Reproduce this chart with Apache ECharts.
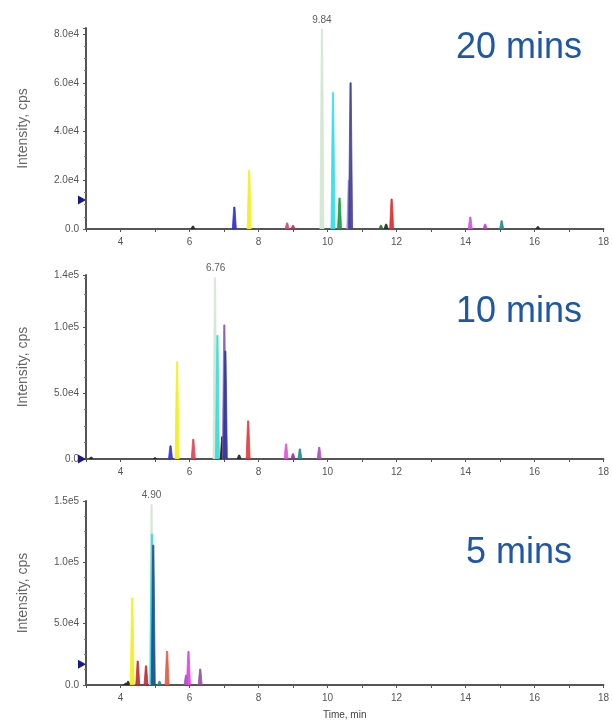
<!DOCTYPE html>
<html>
<head>
<meta charset="utf-8">
<script src="https://cdn.jsdelivr.net/npm/echarts@6/dist/echarts.min.js"></script>
<style>
  html, body { margin: 0; padding: 0; background: #fff; }
  #main { width: 612px; height: 721px; }
</style>
</head>
<body>
<div id="main"></div>
<script>
// retention times (min) and intensities (cps)
var rt20 = [6.10, 7.30, 7.73, 8.83, 9.00, 9.84, 10.16, 10.35, 10.62, 10.67, 11.55, 11.70, 11.86, 14.14, 14.57, 15.05, 16.10]
var int20 = [1200, 9000, 24000, 2500, 1500, 82000, 56000, 12700, 20000, 60000, 1500, 2000, 12300, 4900, 2000, 3400, 1000]
var rt10 = [3.15, 5.00, 5.45, 5.64, 6.11, 6.74, 6.81, 6.95, 7.01, 7.04, 7.44, 7.70, 8.80, 9.00, 9.20, 9.76]
var int10 = [1500, 1000, 10000, 74000, 15000, 138000, 94000, 17000, 102000, 82000, 3000, 29000, 11500, 4000, 7700, 9000]
var rt5 = [4.15, 4.22, 4.34, 4.50, 4.74, 4.90, 4.91, 4.95, 5.13, 5.35, 5.90, 5.97, 6.31]
var int5 = [1500, 3000, 71000, 19500, 15600, 147000, 123000, 114000, 3000, 27500, 8000, 27500, 13000]

// labelled apex per run
var apexRt = [9.84, 6.76, 4.90]
var apexInt = [82000, 138000, 147000]
// threshold markers on the y axis
var markerInt = [11900, 0, 17000]

var runNames = ['20 mins', '10 mins', '5 mins']
var xTicks = [4, 6, 8, 10, 12, 14, 16, 18]

// peak colours (one per trace)
var col20 = ['#222', '#2b2bd0', '#f2ee1a', '#d24a6a', '#c03050', '#cfe6cf', '#2fdcec', '#149a3a', '#9c8ad8', '#3e3e98', '#2a6a2a', '#222', '#e02828', '#d050e0', '#c040c0', '#1f8a8a', '#222']
var col10 = ['#222', '#222', '#3030d0', '#f2ee1a', '#e04050', '#d2e6d2', '#38dcd8', '#111', '#8a5aa8', '#2a3aa0', '#222', '#e03838', '#e050d8', '#9030a0', '#1f8a8a', '#a050c0']
var col5 = ['#222', '#222', '#f2ee1a', '#c02838', '#c02838', '#d2e6d2', '#38d8e0', '#1c4c8c', '#1f8a8a', '#e05840', '#8a5ab0', '#e040e0', '#9050a0']

var chart = echarts.init(document.getElementById('main'))

function makePeak(colors) {
  return function (params, api) {
    var x = api.value(0)
    var top = api.coord([x, api.value(1)])
    var base = api.coord([x, 0])
    var hw = 2
    var c = colors[params.dataIndex]
    return {
      type: 'polygon',
      shape: {
        points: [[base[0] - hw, base[1]], [top[0] - 0.6, top[1]], [top[0] + 0.6, top[1]], [base[0] + hw, base[1]]]
      },
      style: { fill: c, stroke: c, lineWidth: 0.8, opacity: 0.9 }
    }
  }
}

function sciFmt(v) {
  if (v === 0) return '0.0'
  return v.toExponential(1).replace('e+', 'e')
}

var gridTops = [28, 275, 501]
var gridHeights = [201, 184, 185]
var yMax = [82500, 140000, 150000]
var yInterval = [20000, 50000, 50000]
var rts = [rt20, rt10, rt5]
var ints = [int20, int10, int5]
var cols = [col20, col10, col5]

var grids = [], xAxes = [], yAxes = [], series = [], graphics = []
for (var i = 0; i < 3; i++) {
  grids.push({ left: 86, right: 7, top: gridTops[i], height: gridHeights[i] })
  xAxes.push({
    type: 'value',
    gridIndex: i,
    min: 3,
    max: 18,
    interval: 1,
    name: i === 2 ? 'Time, min' : '',
    nameLocation: 'middle',
    nameGap: 25,
    nameTextStyle: { color: '#444', fontSize: 10, fontFamily: 'Liberation Sans' },
    axisLine: { onZero: false, lineStyle: { color: '#555', width: 2 } },
    axisTick: { length: 3, lineStyle: { color: '#555' } },
    axisLabel: {
      color: '#555', fontSize: 10, fontFamily: 'Liberation Sans', margin: 8,
      formatter: function (v) { return xTicks.indexOf(v) >= 0 ? String(v) : '' }
    },
    splitLine: { show: false }
  })
  yAxes.push({
    type: 'value',
    gridIndex: i,
    min: 0,
    max: yMax[i],
    interval: yInterval[i],
    name: 'Intensity, cps',
    nameLocation: 'middle',
    nameRotate: 90,
    nameGap: 56,
    nameTextStyle: { color: '#666', fontSize: 14, fontFamily: 'Liberation Sans' },
    axisLine: { show: true, lineStyle: { color: '#555', width: 2 } },
    axisTick: { show: true, length: 3, lineStyle: { color: '#555' } },
    minorTick: { show: true, splitNumber: 4, length: 2, lineStyle: { color: '#777' } },
    axisLabel: {
      color: '#555', fontSize: 10, fontFamily: 'Liberation Sans', margin: 7,
      showMaxLabel: i !== 0,
      formatter: sciFmt
    },
    splitLine: { show: false }
  })
  series.push({
    type: 'custom',
    xAxisIndex: i,
    yAxisIndex: i,
    clip: true,
    renderItem: makePeak(cols[i]),
    data: rts[i].map(function (r, k) { return [r, ints[i][k]] })
  })
  series.push({
    type: 'scatter',
    xAxisIndex: i,
    yAxisIndex: i,
    clip: false,
    symbolSize: 0,
    z: 5,
    label: {
      show: true, position: 'top', distance: 4,
      color: '#333', fontSize: 10, fontFamily: 'Liberation Sans',
      formatter: function (p) { return p.value[0].toFixed(2) }
    },
    data: [[apexRt[i], apexInt[i]]]
  })
  series.push({
    type: 'scatter',
    xAxisIndex: i,
    yAxisIndex: i,
    clip: false,
    symbol: 'triangle',
    symbolRotate: -90,
    symbolSize: [9, 8],
    symbolOffset: [-4, 0],
    itemStyle: { color: '#1a1a80', opacity: 1 },
    z: 6,
    data: [[3, markerInt[i]]]
  })
}

var titleY = [48, 312, 553]
for (var j = 0; j < 3; j++) {
  graphics.push({
    type: 'text',
    x: 519,
    y: titleY[j],
    style: {
      text: runNames[j],
      fill: '#1e56a8',
      font: '36px "Liberation Sans"',
      textAlign: 'center',
      textVerticalAlign: 'middle'
    }
  })
}

var option = {
  animation: false,
  backgroundColor: '#fff',
  grid: grids,
  xAxis: xAxes,
  yAxis: yAxes,
  series: series,
  graphic: graphics
}
chart.setOption(option)
</script>
</body>
</html>
